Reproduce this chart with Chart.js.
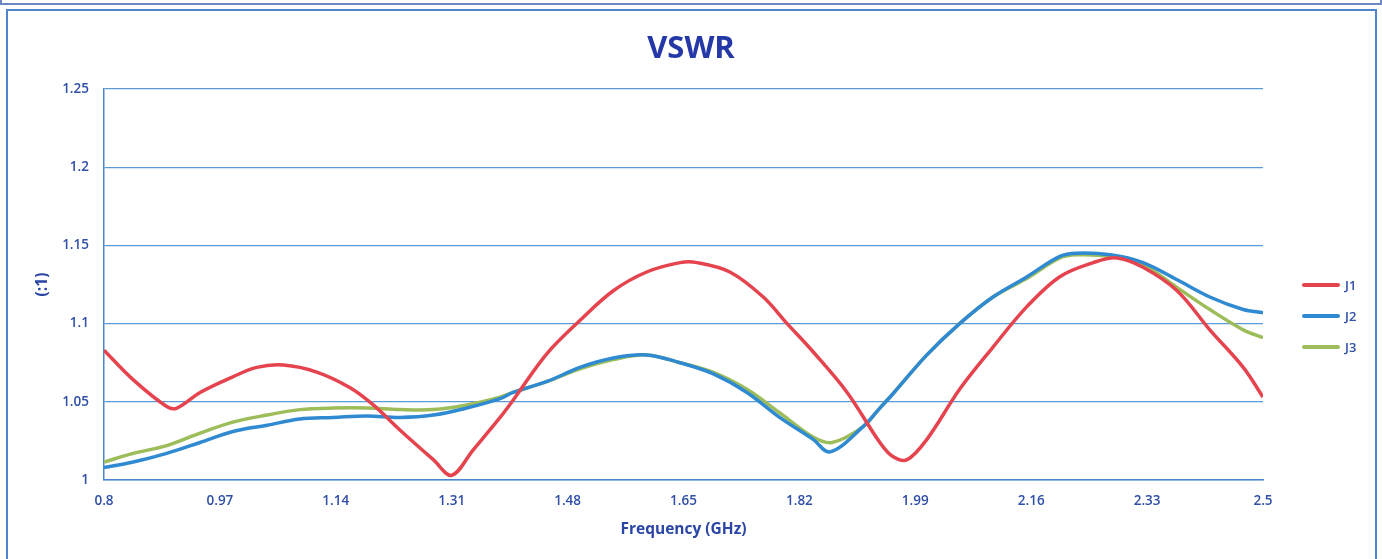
<!DOCTYPE html>
<html>
<head>
<meta charset="utf-8">
<title>VSWR</title>
<script src="https://cdn.jsdelivr.net/npm/chart.js@4.4.1/dist/chart.umd.min.js"></script>
<style>
    body { margin: 0; background: #fff; }
    #wrap { position: relative; width: 1382px; height: 559px; overflow: hidden; }
    #topframe { position: absolute; left: 0; top: -10px; width: 1378px; height: 11px; border: 2px solid #6d86c4; }
    #frame { position: absolute; left: 6px; top: 9px; width: 1367px; height: 560px; border: 2px solid #4f85cf; }
    #title { position: absolute; left: 0; width: 1382px; top: 26px; text-align: center; font-family: "Open Sans", sans-serif;
        font-size: 31px; font-weight: bold; color: #2538a8; line-height: 40px; }
    #legend { position: absolute; left: 1302px; top: 269px; font-family: "Open Sans", sans-serif; font-size: 13px; font-weight: 600; color: #2f4fa8; }
    .item { height: 31px; display: flex; align-items: center; }
    .swatch { width: 38px; height: 4px; border-radius: 2px; margin-right: 5px; }
</style>
</head>
<body>
<div id="wrap">
    <canvas id="vswr-chart"></canvas>
    <div id="topframe"></div>
    <div id="frame"></div>
    <div id="title">VSWR</div>
    <div id="legend"></div>
</div>
<script>
// tick labels
const xTicks = [0.8, 0.97, 1.14, 1.31, 1.48, 1.65, 1.82, 1.99, 2.16, 2.33, 2.5];
const yTicks = [1, 1.05, 1.1, 1.15, 1.2, 1.25];

// J1
const j1Freq = [0.800, 0.843, 0.892, 0.907, 0.941, 0.989, 1.024, 1.063, 1.112, 1.161, 1.195, 1.234, 1.283, 1.310, 1.341,
    1.381, 1.400, 1.450, 1.498, 1.547, 1.596, 1.645, 1.670, 1.718, 1.767, 1.802, 1.840, 1.890, 1.938, 1.957, 1.978,
    2.007, 2.055, 2.104, 2.154, 2.202, 2.251, 2.286, 2.324, 2.374, 2.422, 2.471, 2.500];
const j1Vswr = [1.083, 1.064, 1.047, 1.046, 1.056, 1.066, 1.072, 1.0735, 1.069, 1.059, 1.048, 1.032, 1.013, 1.003, 1.019,
    1.040, 1.051, 1.081, 1.102, 1.121, 1.133, 1.139, 1.139, 1.133, 1.117, 1.100, 1.082, 1.056, 1.024, 1.015, 1.013,
    1.026, 1.058, 1.085, 1.111, 1.130, 1.139, 1.142, 1.136, 1.121, 1.096, 1.072, 1.053];

// J2
const j2Freq = [0.800, 0.843, 0.892, 0.941, 0.989, 1.039, 1.087, 1.136, 1.186, 1.234, 1.283, 1.332, 1.381, 1.400, 1.450,
    1.498, 1.547, 1.596, 1.645, 1.693, 1.743, 1.791, 1.840, 1.865, 1.913, 1.938, 1.957, 2.007, 2.055, 2.104, 2.154,
    2.202, 2.227, 2.276, 2.324, 2.374, 2.422, 2.471, 2.500];
const j2Vswr = [1.008, 1.0115, 1.017, 1.024, 1.031, 1.035, 1.039, 1.040, 1.041, 1.040, 1.0415, 1.046, 1.052, 1.056, 1.063,
    1.072, 1.078, 1.080, 1.075, 1.068, 1.056, 1.040, 1.026, 1.018, 1.034, 1.046, 1.055, 1.080, 1.100, 1.117, 1.130,
    1.143, 1.145, 1.144, 1.139, 1.128, 1.117, 1.109, 1.107];

// J3
const j3Freq = [0.800, 0.843, 0.892, 0.941, 0.989, 1.039, 1.087, 1.136, 1.186, 1.234, 1.283, 1.332, 1.381, 1.400, 1.450,
    1.498, 1.547, 1.596, 1.645, 1.693, 1.743, 1.791, 1.840, 1.868, 1.913, 1.938, 1.957, 2.007, 2.055, 2.104, 2.154,
    2.202, 2.227, 2.276, 2.324, 2.374, 2.422, 2.471, 2.500];
const j3Vswr = [1.0115, 1.017, 1.022, 1.030, 1.037, 1.0415, 1.045, 1.046, 1.046, 1.045, 1.045, 1.048, 1.053, 1.056, 1.063,
    1.071, 1.077, 1.080, 1.075, 1.069, 1.058, 1.043, 1.0275, 1.024, 1.034, 1.046, 1.055, 1.080, 1.100, 1.117, 1.129,
    1.142, 1.144, 1.143, 1.1375, 1.123, 1.109, 1.096, 1.091];

const seriesNames = ["J1", "J2", "J3"];
const seriesColors = ["#e5444f", "#2f8ad2", "#9dbd5a"];

const labelBlue = "#2f4fa8";
const gridBlue = "#5b9bd5";

function toPoints(freq, vswr) {
    return freq.map((f, i) => ({x: f, y: vswr[i]}));
}

function buildLegend() {
    let legend = document.getElementById("legend");
    for (let i = 0; i < seriesNames.length; i++) {
        const item = document.createElement("div");
        item.classList.add("item");
        const swatch = document.createElement("span");
        swatch.classList.add("swatch");
        swatch.style.background = seriesColors[i];
        const text = document.createElement("span");
        text.textContent = seriesNames[i];
        item.appendChild(swatch);
        item.appendChild(text);
        legend.appendChild(item);
    }
}

var vswrChart;
document.addEventListener("DOMContentLoaded", function () {
    const canvas = document.getElementById("vswr-chart");
    canvas.width = 1382;
    canvas.height = 559;

    const allSeries = [toPoints(j1Freq, j1Vswr), toPoints(j2Freq, j2Vswr), toPoints(j3Freq, j3Vswr)];
    const tickFont = {family: "'Open Sans', sans-serif", size: 13.5, weight: "600"};
    const titleFont = {family: "'Open Sans', sans-serif", size: 15.5, weight: "bold", lineHeight: 1.2};

    vswrChart = new Chart(canvas, {
        type: "line",
        data: {
            datasets: allSeries.map((pts, i) => ({
                label: seriesNames[i],
                data: pts,
                borderColor: seriesColors[i],
                backgroundColor: seriesColors[i],
                borderWidth: 3.5,
                pointRadius: 0,
                tension: 0.35,
                fill: false,
            }))
        },
        options: {
            responsive: false,
            animation: false,
            layout: {padding: {left: 10, top: 89, right: 119, bottom: 10}},
            plugins: {
                legend: {display: false},
                tooltip: {enabled: false},
                title: {display: false}
            },
            scales: {
                x: {
                    type: "linear",
                    min: 0.8,
                    max: 2.5,
                    afterBuildTicks: (scale) => { scale.ticks = xTicks.map(v => ({value: v})); },
                    afterFit: (scale) => { scale.height = 69; },
                    grid: {display: false, drawTicks: false},
                    border: {display: true, color: "#4f85cf", width: 1.5},
                    ticks: {
                        color: labelBlue,
                        font: tickFont,
                        padding: 13,
                        maxRotation: 0,
                        autoSkip: false,
                        callback: (v) => String(v),
                    },
                    title: {
                        display: true,
                        text: "Frequency (GHz)",
                        color: "#2a45a5",
                        font: titleFont,
                        padding: {top: 0, bottom: 10},
                    }
                },
                y: {
                    min: 1,
                    max: 1.25,
                    afterBuildTicks: (scale) => { scale.ticks = yTicks.map(v => ({value: v})); },
                    afterFit: (scale) => { scale.width = 94; },
                    grid: {color: gridBlue, lineWidth: 1.2, drawTicks: false},
                    border: {display: true, color: "#4f85cf", width: 1.5},
                    ticks: {
                        color: labelBlue,
                        font: tickFont,
                        padding: 15,
                        callback: (v) => String(v),
                    },
                    title: {
                        display: true,
                        text: "(:1)",
                        color: "#2a45a5",
                        font: titleFont,
                        padding: {top: 23, bottom: 0},
                    }
                }
            }
        },
        plugins: [{
            id: "whiteBg",
            beforeDraw: (chart) => {
                const ctx = chart.ctx;
                ctx.save();
                ctx.fillStyle = "#fff";
                ctx.fillRect(0, 0, chart.width, chart.height);
                ctx.restore();
            }
        }]
    });

    buildLegend();
});
</script>
</body>
</html>
